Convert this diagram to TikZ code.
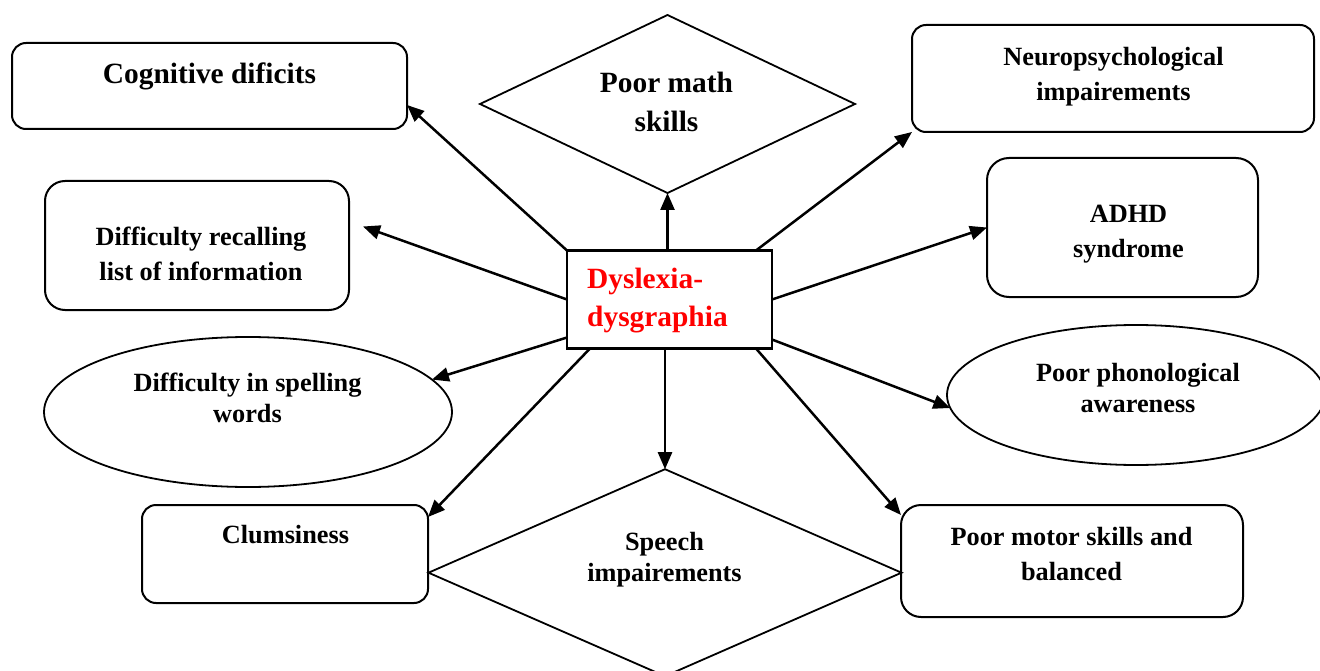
\documentclass[tikz,border=0pt]{standalone}
\usepackage{fontspec}
\setmainfont{Liberation Serif}
\usepackage{xcolor}
\usepackage{tikz}
\usetikzlibrary{shapes.geometric, positioning, calc, arrows.meta}
\tikzstyle{arrow} = [line width=2.5pt,-{Triangle[length=17pt,width=14pt]}]
\tikzstyle{box} = [draw, line width=2pt, rounded corners=14pt, inner sep=0pt, outer sep=0pt]
\tikzstyle{diam} = [draw, diamond, line width=1.8pt, inner sep=0pt, outer sep=0pt]
\tikzstyle{oval} = [draw, ellipse, line width=1.8pt, inner sep=0pt, outer sep=0pt]
\tikzstyle{lbl} = [anchor=base, align=center, inner sep=0pt, font=\fontsize{26.3}{35}\selectfont\bfseries]
\tikzstyle{tight} = [font=\fontsize{26.3}{31}\selectfont\bfseries]
\tikzstyle{big} = [font=\fontsize{29.4}{38.5}\selectfont\bfseries]

\begin{document}
\begin{tikzpicture}[x=1pt,y=-1pt]
	\useasboundingbox (0,0) rectangle (1320,671);
	
	\coordinate (cogc) at (209.5,86);
	\coordinate (pmc) at (667.5,104);
	\coordinate (neuroc) at (1113,78.5);
	\coordinate (recallc) at (197,245.5);
	\coordinate (dysc) at (669.5,299.5);
	\coordinate (adhdc) at (1122.5,227.5);
	\coordinate (spellc) at (248,412);
	\coordinate (phonc) at (1136,395);
	\coordinate (clumc) at (285,554);
	\coordinate (speechc) at (665,572.7);
	\coordinate (motorc) at (1072,561);
	
	% shapes
	\node[box, minimum width=395pt, minimum height=86pt] (cog) at (cogc) {};
	\node[diam, minimum width=375pt, minimum height=178pt] (pm) at (pmc) {};
	\node[box, minimum width=402pt, minimum height=107pt] (neuro) at (neuroc) {};
	\node[box, rounded corners=20pt, minimum width=304pt, minimum height=129pt] (recall) at (recallc) {};
	\node[draw, line width=2.5pt, inner sep=0pt, outer sep=0pt, minimum width=205pt, minimum height=98pt] (dys) at (dysc) {};
	\node[box, rounded corners=22pt, minimum width=271pt, minimum height=139pt] (adhd) at (adhdc) {};
	\node[oval, minimum width=408pt, minimum height=150pt] (spell) at (spellc) {};
	\node[oval, minimum width=378pt, minimum height=140pt] (phon) at (phonc) {};
	\node[box, minimum width=286pt, minimum height=98pt] (clum) at (clumc) {};
	\node[diam, minimum width=473pt, minimum height=207pt] (speech) at (speechc) {};
	\node[box, rounded corners=20pt, minimum width=342pt, minimum height=112pt] (motor) at (motorc) {};
	
	% texts (base = last line)
	\node[lbl, big] (cogt) at ($ (cog) + (0,-2.5) $) {Cognitive dificits};
	\node[lbl, big] (pmt) at ($ (pm) + (-1,27.5) $) {Poor math\\skills};
	\node[lbl] (neurot) at ($ (neuro) + (0.5,22) $) {Neuropsychological\\impairements};
	\node[lbl] (adhdt) at ($ (adhd) + (6,30) $) {ADHD\\syndrome};
	\node[lbl] (recallt) at ($ (recall) + (4,34.5) $) {Difficulty recalling\\list of information};
	\node[lbl, big, anchor=base west, align=left, text=red] (dyst) at ($ (dys.west) + (20,27) $) {Dyslexia-\\dysgraphia};
	\node[lbl, tight] (spellt) at ($ (spell) + (-0.5,10.7) $) {Difficulty in spelling\\words};
	\node[lbl, tight] (phont) at ($ (phon) + (2,17) $) {Poor phonological\\awareness};
	\node[lbl] (clumt) at ($ (clum) + (0.5,-11) $) {Clumsiness};
	\node[lbl, tight] (speecht) at ($ (speech) + (-0.5,9) $) {Speech\\impairements};
	\node[lbl] (motort) at ($ (motor) + (-0.5,19) $) {Poor motor skills and\\balanced};
	
	% arrows
	\draw[arrow] (dys.north west) -- ($ (cog.east) + (0,19) $);
	\draw[arrow] (pm.south |- dys.north) -- (pm.south);
	\draw[arrow] ($ (dys.north east) + (-16,0) $) -- (neuro.south west);
	\draw[arrow] (dys.east) -- (adhd.west);
	\draw[arrow] ($ (dys.south east) + (0,-9) $) -- (phon.184);
	\draw[arrow] ($ (dys.south east) + (-16,0) $) -- ($ (motor.north west) + (0,10) $);
	\draw[arrow] (speech.north |- dys.south) -- (speech.north);
	\draw[arrow] ($ (dys.south west) + (23,0) $) -- ($ (clum.north east) + (0,12) $);
	\draw[arrow] ($ (dys.south west) + (0,-11) $) -- (spell.10);
	\draw[arrow] (dys.west) -- ($ (recall.east) + (14,-19) $);
	
\end{tikzpicture}
\end{document}
